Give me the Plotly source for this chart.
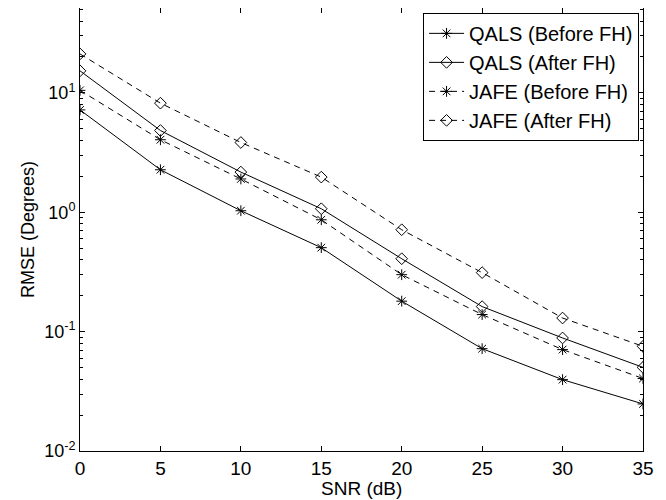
import plotly.graph_objects as go

snr = [0, 5, 10, 15, 20, 25, 30, 35]
qals_before = [7.2, 2.27, 1.03, 0.505, 0.18, 0.072, 0.0396, 0.0248]
qals_after = [15.3, 4.84, 2.17, 1.07, 0.408, 0.162, 0.0885, 0.0502]
jafe_before = [10.5, 4.05, 1.90, 0.865, 0.30, 0.139, 0.0707, 0.0405]
jafe_after = [21.2, 8.2, 3.84, 1.97, 0.714, 0.312, 0.130, 0.0753]

names = ["QALS (Before FH)", "QALS (After FH)", "JAFE (Before FH)", "JAFE (After FH)"]
series = [qals_before, qals_after, jafe_before, jafe_after]
dashes = ["solid", "solid", "6px,5px", "6px,5px"]
symbols = ["asterisk-open", "diamond-open", "asterisk-open", "diamond-open"]

ytickvals = [0.01, 0.1, 1, 10]
yticktext = ["10<sup>-2</sup>", "10<sup>-1</sup>", "10<sup>0</sup>", "10<sup>1</sup>"]
xtickvals = snr
x_title = "SNR (dB)"
y_title = "RMSE (Degrees)"

fig = go.Figure()
for n, s, d, sym in zip(names, series, dashes, symbols):
    fig.add_trace(go.Scatter(
        x=snr, y=s, name=n, mode="lines+markers",
        line=dict(color="black", width=1, dash=d),
        marker=dict(symbol=sym, size=9, color="black", line=dict(color="black", width=1)),
    ))

minor_vals = [m * 10 ** e for e in range(-2, 2) for m in range(2, 10)]

axis_common = dict(
    showline=True, linecolor="black", linewidth=1, mirror="ticks",
    ticks="inside", tickcolor="black", ticklen=5, showgrid=False, zeroline=False,
    automargin=False,
)

fig.update_layout(
    width=666, height=500,
    margin=dict(l=72, r=31, t=0, b=57),
    paper_bgcolor="white", plot_bgcolor="white",
    font=dict(family="Liberation Sans, Arial, sans-serif", color="black"),
    xaxis=dict(range=[0, 35], tickvals=xtickvals,
               tickfont=dict(size=19, color="black"), ticklabelstandoff=0,
               **axis_common),
    yaxis=dict(type="log", range=[-2, 1.711], tickvals=ytickvals, ticktext=yticktext,
               tickfont=dict(size=18, color="black"),
               title=dict(text=y_title, font=dict(size=18), standoff=4),
               minor=dict(tickvals=minor_vals, ticks="inside", ticklen=3, tickcolor="black", showgrid=False),
               **axis_common),
    legend=dict(x=0.993, y=0.989, xanchor="right", yanchor="top",
                bordercolor="black", borderwidth=1, bgcolor="white",
                font=dict(size=20), tracegroupgap=0, itemwidth=35),
    showlegend=True,
    annotations=[dict(text=x_title, xref="paper", yref="paper", x=0.5, y=-0.085,
                      xanchor="center", yanchor="middle", showarrow=False,
                      font=dict(size=19, color="black"))],
)

fig.write_html("out.html")
